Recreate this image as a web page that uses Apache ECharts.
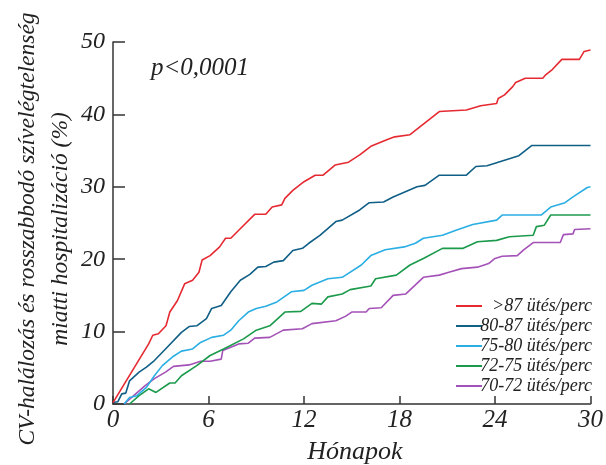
<!DOCTYPE html>
<html><head><meta charset="utf-8">
<script src="https://cdn.jsdelivr.net/npm/echarts@6/dist/echarts.min.js"></script>
<style>html,body{margin:0;padding:0;background:#fff}#c{width:606px;height:465px}</style>
</head><body><div id="c"></div>
<script>
const seriesNames = ['>87 ütés/perc','80-87 ütés/perc','75-80 ütés/perc','72-75 ütés/perc','70-72 ütés/perc'];
const xTicks = [0,6,12,18,24,30];
const yTicks = [0,10,20,30,40,50];
const hr87 = [[0,0.2],[2.24,8.3],[2.5,9.5],[2.85,9.7],[3.33,10.8],[3.57,12.7],[4.05,14.3],[4.5,16.6],[5.0,17.1],[5.4,18.2],[5.6,19.9],[6.1,20.5],[6.7,21.7],[7.07,22.9],[7.4,22.9],[7.9,24.0],[8.9,26.2],[9.6,26.2],[10.0,27.2],[10.6,27.5],[10.8,28.4],[11.3,29.5],[12.0,30.7],[12.7,31.6],[13.2,31.6],[13.95,33.0],[14.8,33.4],[15.5,34.4],[16.2,35.6],[17.2,36.5],[17.7,36.9],[18.66,37.2],[20.5,40.4],[22.2,40.6],[23.1,41.2],[24.1,41.5],[24.2,42.2],[24.6,42.7],[25.1,43.8],[25.3,44.4],[25.9,45.0],[27.0,45.0],[27.2,45.5],[27.6,46.2],[28.2,47.6],[29.3,47.6],[29.6,48.7],[30,48.9]];
const hr80_87 = [[0,0.2],[0.3,0.3],[0.55,1.4],[0.8,1.5],[1.04,3.2],[1.64,4.4],[2.1,5.1],[2.6,6.0],[3.3,7.6],[4.3,9.9],[4.78,10.7],[5.26,10.8],[5.87,11.8],[6.2,13.2],[6.8,13.6],[7.4,15.5],[8.0,17.1],[8.6,17.9],[9.1,18.9],[9.6,19.0],[10.1,19.6],[10.7,19.8],[11.3,21.2],[11.9,21.5],[12.3,22.2],[13.0,23.3],[14.0,25.2],[14.4,25.4],[15.5,26.8],[16.1,27.8],[17.0,27.9],[17.6,28.6],[19.1,30.0],[19.6,30.2],[20.5,31.6],[22.2,31.6],[22.8,32.8],[23.5,32.9],[25.5,34.3],[26.3,35.7],[30,35.7]];
const hr75_80 = [[0.7,0],[1.04,0.9],[1.5,1.15],[2.1,2.3],[2.6,3.9],[3.1,5.3],[3.8,6.6],[4.3,7.3],[5.0,7.6],[5.5,8.5],[6.2,9.2],[6.95,9.5],[7.4,10.2],[7.9,11.5],[8.5,12.7],[9.0,13.2],[9.6,13.5],[10.3,14.1],[11.2,15.5],[12.0,15.7],[12.5,16.4],[13.5,17.3],[14.4,17.5],[15.6,19.2],[16.2,20.5],[17.1,21.3],[18.3,21.7],[19.0,22.2],[19.5,22.9],[20.7,23.3],[21.55,24.0],[22.6,24.8],[24.1,25.4],[24.45,26.1],[26.9,26.1],[27.5,27.2],[28.4,27.8],[28.9,28.6],[29.8,29.9],[30,30.0]];
const hr72_75 = [[1.04,0],[1.64,1.15],[2.24,2.1],[2.7,1.6],[3.57,2.9],[3.9,2.9],[4.3,3.9],[5.26,5.3],[6.1,6.7],[6.95,7.6],[8.2,9.0],[9.0,10.2],[9.85,10.8],[10.8,12.7],[11.8,12.8],[12.5,13.9],[13.1,13.8],[13.5,14.8],[14.4,15.2],[14.9,15.8],[16.2,16.3],[16.5,17.3],[17.8,17.8],[18.66,19.2],[19.5,20.1],[20.7,21.5],[22.0,21.5],[22.9,22.4],[24.1,22.6],[24.9,23.1],[26.4,23.3],[26.6,24.5],[27.1,24.7],[27.5,26.1],[30,26.1]];
const hr70_72 = [[0.7,0],[1.3,1.15],[2.0,2.5],[2.6,3.5],[3.3,4.4],[3.8,5.2],[4.78,5.4],[5.5,5.9],[6.1,5.9],[6.8,6.2],[6.9,7.4],[7.9,8.3],[8.5,8.4],[8.9,9.1],[9.85,9.2],[10.7,10.2],[11.9,10.4],[12.5,11.1],[14.0,11.5],[14.6,12.1],[15.0,12.7],[15.9,12.7],[16.1,13.2],[16.85,13.3],[17.6,15.0],[18.4,15.2],[19.5,17.5],[20.5,17.8],[21.1,18.2],[21.9,18.7],[22.9,18.9],[23.6,19.4],[24.0,20.1],[24.45,20.4],[25.4,20.5],[25.8,21.3],[26.4,22.3],[28.1,22.3],[28.3,23.4],[28.9,23.5],[29.0,24.1],[30,24.2]];
const allData = [hr87, hr80_87, hr75_80, hr72_75, hr70_72];
const colors = ['#e52a32','#105f86','#2aaee3','#1b9a4c','#a452b7'];
const FONT = '"Liberation Serif", "Times New Roman", Times, "DejaVu Serif", serif';

const chart = echarts.init(document.getElementById('c'), null, {renderer:'canvas'});
chart.setOption({
  animation:false,
  backgroundColor:'#fff',
  grid:{left:113,right:13,top:42,bottom:61,containLabel:false},
  xAxis:{type:'value',min:0,max:30,interval:6,
    axisLine:{show:true,lineStyle:{color:'#333',width:1.5}},
    axisTick:{show:true,inside:true,length:8,lineStyle:{color:'#333',width:1.5}},
    axisLabel:{margin:4,color:'#222',fontFamily:FONT,fontStyle:'italic',fontSize:25,
      formatter:v=>xTicks.includes(v)?String(v):''},
    splitLine:{show:false}},
  yAxis:{type:'value',min:0,max:50,interval:10,
    axisLine:{show:true,lineStyle:{color:'#333',width:1.5}},
    axisTick:{show:true,inside:true,length:12,lineStyle:{color:'#333',width:1.5}},
    axisLabel:{margin:8,color:'#222',fontFamily:FONT,fontStyle:'italic',fontSize:24,
      formatter:v=>yTicks.includes(v)?String(v):''},
    splitLine:{show:false}},
  legend:{orient:'vertical',right:14,top:296,itemWidth:26,itemHeight:14,itemGap:0,padding:0,
    icon:'path://M0,6 L26,6 L26,8 L0,8 Z',
    data:seriesNames,
    formatter:'{a|{name}}',
    textStyle:{color:'#222',fontFamily:FONT,fontStyle:'italic',fontSize:18,lineHeight:20,
      rich:{a:{width:105,height:20,lineHeight:20,align:'right',fontFamily:FONT,fontStyle:'italic',fontSize:18,color:'#222'}}}},
  series: seriesNames.map((n,i)=>({name:n,type:'line',data:allData[i],showSymbol:false,symbol:'none',
    lineStyle:{color:colors[i],width:1.6},itemStyle:{color:colors[i]},z:10-i})),
  graphic:[
    {type:'text',x:44,y:229,rotation:Math.PI/2,
      style:{text:'CV-halálozás és rosszabbodó szívelégtelenség\nmiatti hospitalizáció (%)',
        font:'italic 23.5px ' + FONT,fill:'#222',align:'center',verticalAlign:'middle',lineHeight:33}},
    {type:'text',x:355,y:452,style:{text:'Hónapok',font:'italic 26px ' + FONT,fill:'#222',align:'center',verticalAlign:'middle'}},
    {type:'text',x:151,y:68,style:{text:'p<0,0001',font:'italic 25px ' + FONT,fill:'#222',align:'left',verticalAlign:'middle'}}
  ]
});
</script></body></html>
